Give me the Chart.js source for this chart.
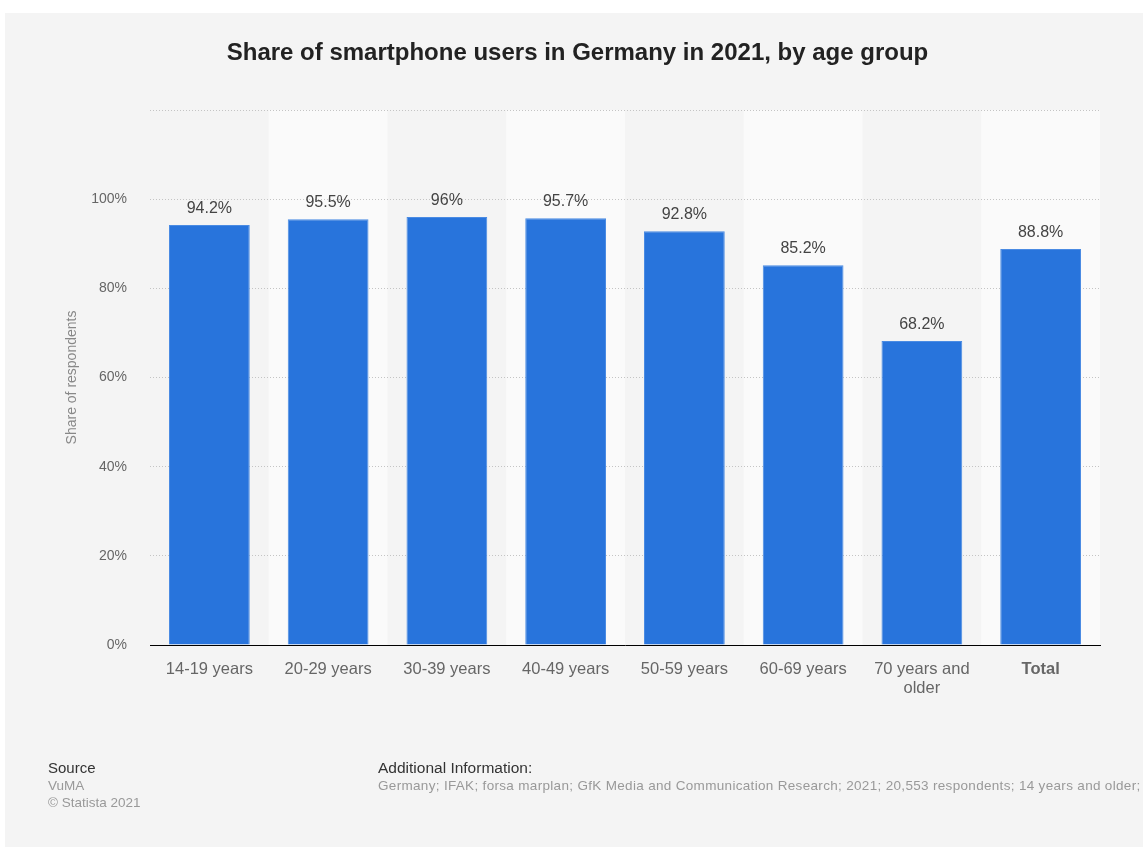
<!DOCTYPE html>
<html>
<head>
<meta charset="utf-8">
<script src="https://cdn.jsdelivr.net/npm/chart.js@4/dist/chart.umd.min.js"></script>
<style>
  html, body { margin: 0; padding: 0; background: #ffffff; }
  body { width: 1143px; height: 847px; position: relative; overflow: hidden; font-family: 'Liberation Sans', Arial, sans-serif; }
  .panel { position: absolute; left: 5px; top: 13px; right: 0; bottom: 0; background: #f4f4f4; }
  #chart { position: absolute; left: 0; top: 0; }
  .title { position: absolute; left: 0; width: 1155px; top: 38px; text-align: center; font-size: 24px; line-height: 28px; font-weight: bold; color: #222; }
  .foot { position: absolute; font-size: 13.5px; line-height: 17px; color: #999; white-space: nowrap; }
  .foot b { font-weight: normal; color: #333; font-size: 15.5px; }
</style>
</head>
<body>
<div class="panel"></div>
<canvas id="chart" width="1143" height="847"></canvas>
<div class="title">Share of smartphone users in Germany in 2021, by age group</div>
<div class="foot" style="left:48px; top:759px;"><b style="font-size:15px;">Source</b><br>VuMA<br>© Statista 2021</div>
<div class="foot" style="left:378px; top:759px; letter-spacing:0.32px;"><b style="letter-spacing:0;">Additional Information:</b><br>Germany; IFAK; forsa marplan; GfK Media and Communication Research; 2021; 20,553 respondents; 14 years and older;</div>
<script>
const categories = ['14-19 years', '20-29 years', '30-39 years', '40-49 years', '50-59 years', '60-69 years', ['70 years and', 'older'], 'Total'];
const shares = [94.2, 95.5, 96, 95.7, 92.8, 85.2, 68.2, 88.8];
const yTicks = [0, 20, 40, 60, 80, 100, 120];

const colors = {
  bar: '#2874dc',
  band: '#fafafa',
  grid: '#c4c4c4',
  tick: '#666666',
  label: '#444444',
  axisTitle: '#888888'
};

const bandsPlugin = {
  id: 'bands',
  beforeDraw(chart) {
    const { ctx, chartArea, scales } = chart;
    const step = (chartArea.right - chartArea.left) / categories.length;
    ctx.save();
    ctx.fillStyle = colors.band;
    categories.forEach((c, i) => {
      if (i % 2 === 1) {
        const x = scales.x.getPixelForValue(i) - step / 2;
        ctx.fillRect(x, chartArea.top, step, chartArea.bottom - chartArea.top);
      }
    });
    ctx.restore();
  }
};

const valueLabels = {
  id: 'valueLabels',
  afterDatasetsDraw(chart) {
    const { ctx } = chart;
    const meta = chart.getDatasetMeta(0);
    ctx.save();
    ctx.font = '16px "Liberation Sans", Arial, sans-serif';
    ctx.fillStyle = colors.label;
    ctx.textAlign = 'center';
    ctx.textBaseline = 'alphabetic';
    meta.data.forEach((bar, i) => {
      ctx.fillText(shares[i] + '%', bar.x, bar.y - 12);
    });
    ctx.restore();
  }
};

new Chart(document.getElementById('chart'), {
  type: 'bar',
  data: {
    labels: categories,
    datasets: [{
      data: shares,
      backgroundColor: colors.bar,
      borderColor: '#4a8be3',
      borderWidth: { top: 1, left: 1, right: 1, bottom: 0 },
      categoryPercentage: 0.68,
      barPercentage: 1
    }]
  },
  options: {
    responsive: false,
    animation: false,
    layout: { padding: { left: 64, right: 43, top: 110, bottom: 142 } },
    plugins: {
      legend: { display: false },
      tooltip: { enabled: false }
    },
    scales: {
      x: {
        grid: { display: false, drawTicks: false },
        border: { display: true, color: '#000000', width: 1 },
        ticks: {
          padding: 15,
          maxRotation: 0,
          color: colors.tick,
          font: (ctx) => ({
            family: '"Liberation Sans", Arial, sans-serif',
            size: 16.5,
            weight: ctx.index === categories.length - 1 ? 'bold' : 'normal',
            lineHeight: 1.15
          })
        },
        afterFit(scale) { scale.height = 60; }
      },
      y: {
        min: 0,
        max: 120,
        afterBuildTicks(scale) { scale.ticks = yTicks.map((v) => ({ value: v })); },
        grid: { color: colors.grid, drawTicks: false, lineWidth: 1 },
        border: { display: false, dash: [1, 2] },
        ticks: {
          padding: 23,
          color: colors.tick,
          font: { family: '"Liberation Sans", Arial, sans-serif', size: 14 },
          callback: (v) => (v > 100 ? '' : v + '%')
        },
        title: {
          display: true,
          text: 'Share of respondents',
          color: colors.axisTitle,
          font: { family: '"Liberation Sans", Arial, sans-serif', size: 14 },
          padding: 0
        },
        afterFit(scale) { scale.width = 86; }
      }
    }
  },
  plugins: [bandsPlugin, valueLabels]
});
</script>
</body>
</html>
